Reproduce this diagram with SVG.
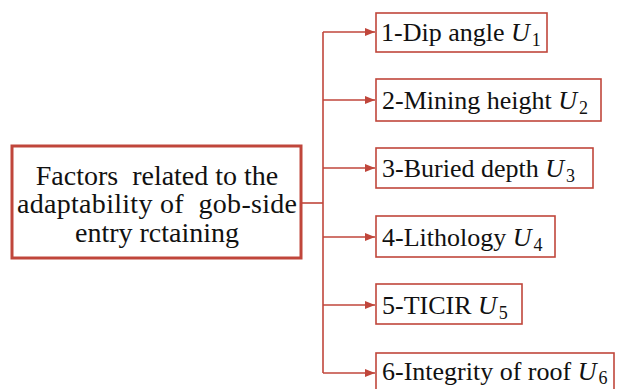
<svg xmlns="http://www.w3.org/2000/svg" width="619" height="389" viewBox="0 0 619 389">
<style>
.box{fill:#fff;stroke:#c0463b;stroke-width:1.6}
.main{fill:#fff;stroke:#c0463b;stroke-width:3}
.lbl{font-size:26px;fill:#111}
.mt{font-size:28px;fill:#111;text-anchor:middle}
.u{font-style:italic}
.sub{font-size:18px}
.con{stroke:#c0463b;stroke-width:1.6;fill:none}
</style>
<defs>
<marker id="ah" viewBox="0 0 10 8" refX="10" refY="4" markerWidth="10" markerHeight="8" markerUnits="userSpaceOnUse" orient="auto">
<path d="M0,0 L10,4 L0,8 Z" fill="#c0463b"/>
</marker>
</defs>
<g id="connectors">
<path class="con" d="M301,203 H323"/>
<path class="con" d="M323,32 V373"/>
<path class="con" d="M323,32 H375" marker-end="url(#ah)"/>
<path class="con" d="M323,100 H375" marker-end="url(#ah)"/>
<path class="con" d="M323,168 H375" marker-end="url(#ah)"/>
<path class="con" d="M323,237 H375" marker-end="url(#ah)"/>
<path class="con" d="M323,305 H375" marker-end="url(#ah)"/>
<path class="con" d="M323,373 H375" marker-end="url(#ah)"/>
</g>
<g font-family="'Liberation Serif', 'Times New Roman', 'DejaVu Serif', serif">
<g id="main">
<rect class="main" x="12" y="146" width="289" height="112"/>
<text class="mt" x="157" y="185">Factors&#160; related to the</text>
<text class="mt" x="157" y="213" textLength="280">adaptability of&#160; gob-side</text>
<text class="mt" x="157" y="242">entry rctaining</text>
</g>
<g id="n1">
<rect class="box" x="376" y="13" width="171" height="39"/>
<text class="lbl" x="381" y="41">1-Dip angle <tspan class="u">U</tspan><tspan class="sub" dx="2" dy="5">1</tspan></text>
</g>
<g id="n2">
<rect class="box" x="376" y="79" width="225" height="42"/>
<text class="lbl" x="382" y="109">2-Mining height <tspan class="u">U</tspan><tspan class="sub" dx="2" dy="5">2</tspan></text>
</g>
<g id="n3">
<rect class="box" x="376" y="148" width="217" height="40"/>
<text class="lbl" x="382" y="177">3-Buried depth <tspan class="u">U</tspan><tspan class="sub" dx="2" dy="5">3</tspan></text>
</g>
<g id="n4">
<rect class="box" x="376" y="216" width="179" height="41"/>
<text class="lbl" x="382" y="246">4-Lithology <tspan class="u">U</tspan><tspan class="sub" dx="2" dy="5">4</tspan></text>
</g>
<g id="n5">
<rect class="box" x="376" y="284" width="146" height="40"/>
<text class="lbl" x="382" y="314">5-TICIR <tspan class="u">U</tspan><tspan class="sub" dx="2" dy="5">5</tspan></text>
</g>
<g id="n6">
<rect class="box" x="376" y="353" width="238" height="41"/>
<text class="lbl" x="382" y="380">6-Integrity of roof <tspan class="u">U</tspan><tspan class="sub" dx="2" dy="4">6</tspan></text>
</g>
</g>
</svg>
